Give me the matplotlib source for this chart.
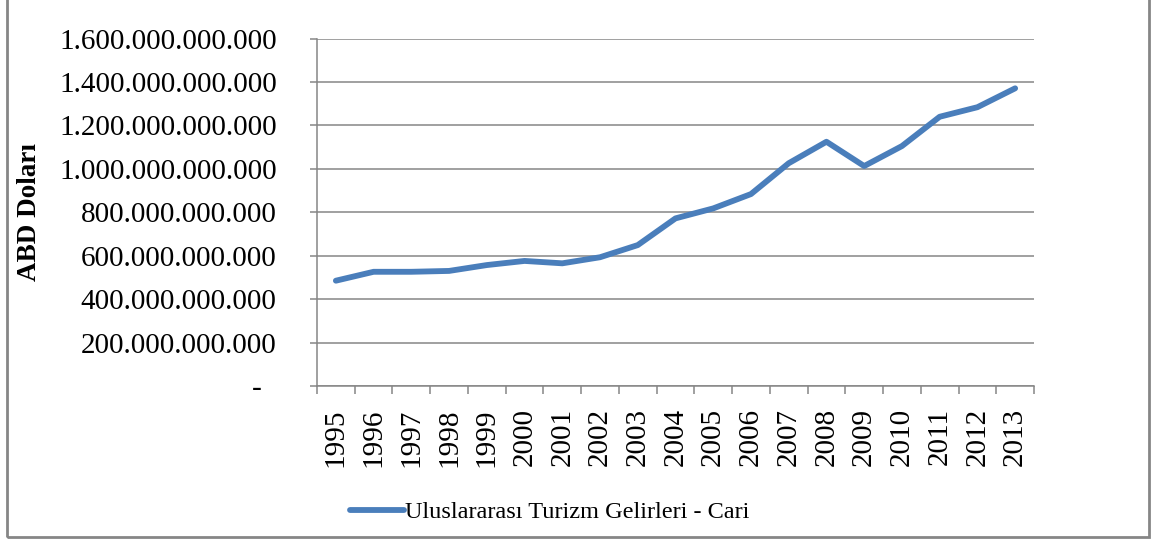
import matplotlib
matplotlib.use("Agg")
import matplotlib.pyplot as plt
from matplotlib.lines import Line2D
from matplotlib.patches import Rectangle
from matplotlib.ticker import FixedLocator, FuncFormatter

years = ["1995", "1996", "1997", "1998", "1999", "2000", "2001", "2002", "2003", "2004",
         "2005", "2006", "2007", "2008", "2009", "2010", "2011", "2012", "2013"]
revenue = [485e9, 526e9, 526e9, 530e9, 557e9, 576e9, 565e9, 593e9, 649e9, 772e9,
           818e9, 884e9, 1026e9, 1125e9, 1013e9, 1105e9, 1240e9, 1284e9, 1371e9]
series_name = "Uluslararası Turizm Gelirleri - Cari"
y_label = "ABD Doları"
y_ticks = [0, 200e9, 400e9, 600e9, 800e9, 1000e9, 1200e9, 1400e9, 1600e9]

plt.rcParams['font.family'] = ['Liberation Serif', 'DejaVu Serif']

line_color = "#4A7EBB"
grid_color = "#868686"

fig = plt.figure(figsize=(11.51, 5.41), dpi=100)
ax = fig.add_axes([317/1151, 155/541, 717/1151, 347.4/541])

x = list(range(len(years)))
ax.plot(x, revenue, color=line_color, linewidth=4.2, solid_capstyle='round',
        solid_joinstyle='round', zorder=3)

ax.set_xlim(-0.5, len(years) - 0.5)
ax.set_ylim(0, 1600e9)

ax.yaxis.set_major_locator(FixedLocator(y_ticks))
def fmt(v, pos):
    if v == 0:
        return "-  "
    return f"{int(round(v)):,}".replace(",", ".")
ax.yaxis.set_major_formatter(FuncFormatter(fmt))
ax.grid(axis='y', color=grid_color, linewidth=1.1, zorder=1)

ax.xaxis.set_major_locator(FixedLocator([i - 0.5 for i in range(len(years) + 1)]))
ax.xaxis.set_major_formatter(FuncFormatter(lambda v, p: ""))
ax.xaxis.set_minor_locator(FixedLocator(x))
ax.set_xticklabels(years, minor=True, rotation=90)
ax.tick_params(axis='x', which='major', length=6, width=1.1, color=grid_color, direction='out')
ax.tick_params(axis='x', which='minor', length=0, pad=16, labelsize=21)
ax.tick_params(axis='y', length=5, width=1.1, color=grid_color, pad=24, labelsize=21)

for s in ['top', 'right']:
    ax.spines[s].set_visible(False)
for s in ['left', 'bottom']:
    ax.spines[s].set_color(grid_color)
    ax.spines[s].set_linewidth(1.1)

fig.text(30/1151, 1 - 212/541, y_label, rotation=90, ha='center', va='center',
         fontsize=19.5, fontweight='bold')

handle = Line2D([0], [0], color=line_color, linewidth=4.2, solid_capstyle='round')
fig.legend([handle], [series_name], loc='center', bbox_to_anchor=(550/1151, 29/541),
           frameon=False, fontsize=17.5, handlelength=2.2, handletextpad=0.05)

fig.patches.append(Rectangle((7/1151, 4/541), 1142/1151, 1.2, transform=fig.transFigure,
                             fill=False, edgecolor=grid_color, linewidth=2.0))

fig.savefig("out.png", dpi=100)
